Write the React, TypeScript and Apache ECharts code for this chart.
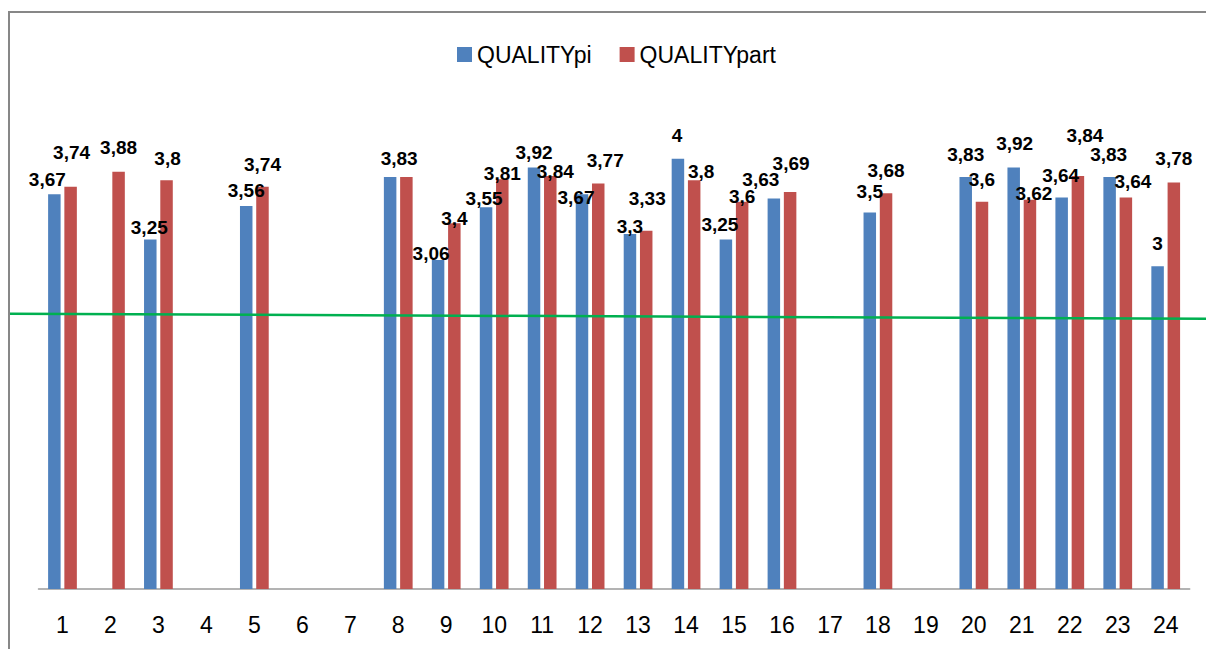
import React, { useEffect, useRef } from "react";
import * as echarts from "echarts";

const categories = ["1","2","3","4","5","6","7","8","9","10","11","12","13","14","15","16","17","18","19","20","21","22","23","24"];
const qualityPi = [3.67, null, 3.25, null, 3.56, null, null, 3.83, 3.06, 3.55, 3.92, 3.67, 3.3, 4, 3.25, 3.63, null, 3.5, null, 3.83, 3.92, 3.64, 3.83, 3];
const qualityPart = [3.74, 3.88, 3.8, null, 3.74, null, null, 3.83, 3.4, 3.81, 3.84, 3.77, 3.33, 3.8, 3.6, 3.69, null, 3.68, null, 3.6, 3.62, 3.84, 3.64, 3.78];
const trendValues = [2.559, 2.512];

// label nudges (dx, dy) as placed in the original chart; null = label not shown
const piLabelNudge: Array<[number, number] | null> = [
  [-7, 0], [0, 0], [-1, 3], [0, 0], [0, -1], [0, 0], [0, 0], [9, -4], [-7, 8], [-2, 6], [0, 0], [-6, 18],
  [0, 7], [-1, -9], [-6, 0], [-13, -5], [0, 0], [0, -7], [0, 0], [0, -8], [1, -9], [-1, -7], [-1, -8], [0, -8],
];
const partLabelNudge: Array<[number, number] | null> = [
  [1, -20], [0, -10], [1, -7], [0, 0], [0, -8], [0, 0], [0, 0], null, [0, 10], [0, 9], [5, 10], [7, -9],
  [1, -18], [7, 6], [0, 9], [1, -14], [0, 0], [0, -8], [0, 0], [0, -8], [4, 8], [7, -26], [7, -1], [0, -9],
];

const FONT = "Liberation Sans, Arial, sans-serif";
const fmt = (v: number) => String(v).replace(".", ",");

export default function App() {
  const ref = useRef<HTMLDivElement>(null);
  useEffect(() => {
    if (!ref.current) return;
    const chart = echarts.init(ref.current, null, { renderer: "svg" });
    const gridTop = 105;
    const gridBottom = 60;
    const mkData = (vals: (number | null)[], nudges: Array<[number, number] | null>) =>
      vals.map((v, i) => ({
        value: v,
        label: nudges[i] ? { offset: nudges[i] } : { show: false },
      }));
    const labelStyle = {
      show: true,
      position: "top",
      distance: 5,
      fontFamily: FONT,
      fontWeight: "bold",
      fontSize: 19,
      color: "#000",
      formatter: (p: any) => fmt(p.value),
    };
    chart.setOption({
      animation: false,
      backgroundColor: "#fff",
      graphic: [
        {
          type: "rect",
          shape: { x: 9, y: 12, width: 1300, height: 700 },
          style: { fill: "none", stroke: "#878787", lineWidth: 2 },
          z: 0,
        },
      ],
      legend: {
        data: ["QUALITYpi", "QUALITYpart"],
        left: 457,
        top: 43,
        padding: 0,
        icon: "rect",
        itemWidth: 15,
        itemHeight: 15,
        itemGap: 28,
        textStyle: { fontFamily: FONT, fontSize: 23, color: "#000" },
      },
      grid: [
        { left: 38.5, right: 16.3, top: gridTop, bottom: gridBottom },
        { left: 10, right: 0, top: gridTop, bottom: gridBottom },
      ],
      xAxis: [
        {
          type: "category",
          gridIndex: 0,
          data: categories,
          axisTick: { show: false },
          axisLine: { lineStyle: { color: "#9a9a9a", width: 1.5 } },
          axisLabel: { fontFamily: FONT, fontSize: 23, color: "#000", margin: 24 },
        },
        { type: "value", gridIndex: 1, min: 0, max: 1, show: false },
      ],
      yAxis: [
        { type: "value", gridIndex: 0, min: 0, max: 4.5, show: false },
        { type: "value", gridIndex: 1, min: 0, max: 4.5, show: false },
      ],
      series: [
        {
          name: "QUALITYpi",
          type: "bar",
          xAxisIndex: 0,
          yAxisIndex: 0,
          barWidth: 12.5,
          barGap: "30%",
          itemStyle: { color: "#4f81bd" },
          label: labelStyle,
          data: mkData(qualityPi, piLabelNudge),
        },
        {
          name: "QUALITYpart",
          type: "bar",
          xAxisIndex: 0,
          yAxisIndex: 0,
          barWidth: 12.5,
          barGap: "30%",
          itemStyle: { color: "#c0504d" },
          label: labelStyle,
          data: mkData(qualityPart, partLabelNudge),
        },
        {
          name: "trend",
          type: "line",
          xAxisIndex: 1,
          yAxisIndex: 1,
          symbol: "none",
          silent: true,
          z: 5,
          lineStyle: { color: "#00b050", width: 2.5 },
          data: [[0, trendValues[0]], [1, trendValues[1]]],
        },
      ],
    });
    return () => chart.dispose();
  }, []);
  return (
    <div
      ref={ref}
      style={{ position: "fixed", left: 0, top: 0, width: 1206, height: 649 }}
    />
  );
}
